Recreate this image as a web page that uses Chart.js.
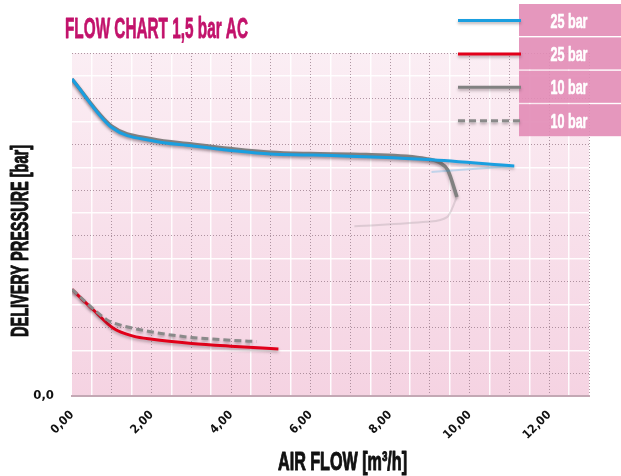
<!DOCTYPE html>
<html>
<head>
<meta charset="utf-8">
<script src="https://cdn.jsdelivr.net/npm/chart.js@4.4.1/dist/chart.umd.min.js"></script>
<style>
  html, body { margin: 0; padding: 0; background: #fff; }
  #wrap { width: 621px; height: 476px; }
</style>
</head>
<body>
<div id="wrap"><canvas id="flowChart"></canvas></div>
<script>
// series values (x = air flow m3/h, y = pressure grid units)
const blue25X = [0, 1.0, 2.02, 3.01, 3.99, 4.98, 5.98, 8.92, 11.12];
const blue25Y = [6.93, 5.87, 5.58, 5.47, 5.37, 5.29, 5.27, 5.17, 5.03];

const gray10X = [0, 1.0, 2.02, 3.01, 3.99, 4.98, 5.98, 7.4, 8.9, 9.25, 9.45, 9.68];
const gray10Y = [6.93, 5.90, 5.62, 5.51, 5.41, 5.33, 5.30, 5.28, 5.19, 5.10, 4.94, 4.35];

const red25X = [0, 0.54, 1.04, 1.54, 2.02, 3.01, 3.99, 5.19];
const red25Y = [2.33, 1.88, 1.48, 1.31, 1.24, 1.15, 1.09, 1.03];

const dash10X = [0, 0.87, 1.04, 2.02, 3.01, 3.99, 4.64];
const dash10Y = [2.33, 1.67, 1.60, 1.40, 1.28, 1.22, 1.19];

// faint reflections visible under the upper curves
const grayReflX = [7.1, 8.93, 9.43, 9.68];
const grayReflY = [3.71, 3.81, 3.91, 4.35];
const blueReflX = [9.04, 11.12];
const blueReflY = [4.90, 5.03];

const legendLabels = ['25 bar', '25 bar', '10 bar', '10 bar'];
const xTickEvery = 2;

const pts = (xs, ys) => xs.map((x, i) => ({ x: x, y: ys[i] }));

const dotColor = 'rgba(150,120,135,0.75)';
const isWhole = v => Math.abs(v - Math.round(v)) < 1e-6;

// bold text squeezed to a given width, with a thin stroke to keep it heavy
function condensedText(c, text, x, y, size, width, color, align, stroke) {
    c.save();
    c.font = 'bold ' + size + 'px "Liberation Sans Narrow", "Liberation Sans", Arial, sans-serif';
    const w = c.measureText(text).width;
    c.translate(x, y);
    c.scale(width / w, 1);
    c.fillStyle = color;
    c.strokeStyle = color;
    c.lineWidth = stroke || 0.9;
    c.lineJoin = 'round';
    c.textAlign = align || 'left';
    c.textBaseline = 'alphabetic';
    c.fillText(text, 0, 0);
    c.strokeText(text, 0, 0);
    c.restore();
}

// plot background gradient
const plotBg = {
    id: 'plotBg',
    beforeDraw(chart) {
        const { ctx: c, chartArea: a } = chart;
        const g = c.createLinearGradient(0, a.top, 0, a.bottom);
        g.addColorStop(0, '#fbeef4');
        g.addColorStop(1, '#f5d3e2');
        c.save();
        c.fillStyle = g;
        c.fillRect(a.left, a.top, a.right - a.left, a.bottom - a.top);
        c.restore();
    }
};

// soft shadow under the curves
const lineShadow = {
    id: 'lineShadow',
    beforeDatasetDraw(chart, args) {
        if (chart.data.datasets[args.index].faint) return;
        const c = chart.ctx;
        c.save();
        c.shadowColor = 'rgba(60,40,50,0.35)';
        c.shadowBlur = 3;
        c.shadowOffsetY = 2;
    },
    afterDatasetDraw(chart, args) {
        if (chart.data.datasets[args.index].faint) return;
        chart.ctx.restore();
    }
};

// titles and the boxed legend
const decorations = {
    id: 'decorations',
    afterDraw(chart) {
        const c = chart.ctx;
        condensedText(c, 'FLOW CHART 1,5 bar AC', 65, 38, 30, 183, '#c2126b', 'left', 0.8);

        c.save();
        c.translate(28, 337);
        c.rotate(-Math.PI / 2);
        condensedText(c, 'DELIVERY PRESSURE [bar]', 0, 0, 23, 192, '#111', 'left', 1);
        c.restore();

        condensedText(c, 'AIR FLOW [m\u00b3/h]', 278, 470, 25, 129, '#111', 'left', 1);

        const lines = chart.data.datasets.filter(d => !d.faint);
        const order = [0, 3, 1, 2]; // blue, red, gray, dashed
        legendLabels.forEach((lab, i) => {
            const top = 4 + i * 33.4;
            c.save();
            c.fillStyle = 'rgba(226,140,182,0.9)';
            c.fillRect(519, top, 102, 32);
            c.restore();

            const ds = lines[order[i]];
            const cy = top + 16.5;
            c.save();
            c.shadowColor = 'rgba(60,40,50,0.35)';
            c.shadowBlur = 3;
            c.shadowOffsetY = 2;
            c.strokeStyle = ds.borderColor;
            c.lineWidth = 3;
            c.setLineDash(ds.borderDash || []);
            c.beginPath();
            c.moveTo(458, cy);
            c.lineTo(521, cy);
            c.stroke();
            c.restore();

            condensedText(c, lab, 569, cy + 7, 20, 37, '#ffffff', 'center', 0.6);
        });
    }
};

const tickFont = { family: '"Liberation Sans Narrow", "DejaVu Sans Condensed", sans-serif', weight: 'bold', size: 12 };

const ctx = document.getElementById('flowChart').getContext('2d');
const chart = new Chart(ctx, {
    type: 'line',
    data: {
        datasets: [
            { data: pts(grayReflX, grayReflY), borderColor: 'rgba(160,150,155,0.3)', borderWidth: 2, faint: true },
            { data: pts(blueReflX, blueReflY), borderColor: 'rgba(27,159,223,0.25)', borderWidth: 2, faint: true },
            { label: '25 bar', data: pts(blue25X, blue25Y), borderColor: '#1a9fe0', borderWidth: 3 },
            { label: '10 bar', data: pts(gray10X, gray10Y), borderColor: '#818181', borderWidth: 3.5 },
            { label: '10 bar', data: pts(dash10X, dash10Y), borderColor: '#8a8a8a', borderWidth: 3, borderDash: [7, 4] },
            { label: '25 bar', data: pts(red25X, red25Y), borderColor: '#e2001a', borderWidth: 3 }
        ]
    },
    options: {
        responsive: true,
        maintainAspectRatio: false,
        animation: false,
        devicePixelRatio: 1,
        layout: { padding: { left: 0, top: 53, right: 32, bottom: 0 } },
        elements: {
            point: { radius: 0 },
            line: { cubicInterpolationMode: 'monotone', fill: false, capBezierPoints: true }
        },
        plugins: { legend: { display: false }, title: { display: false }, tooltip: { enabled: false } },
        scales: {
            x: {
                type: 'linear', min: 0, max: 13,
                afterFit: s => { s.height = 80; },
                ticks: {
                    stepSize: 0.5, autoSkip: false, maxRotation: 45, minRotation: 45, padding: 12,
                    color: '#111', font: tickFont,
                    callback: v => (isWhole(v) && Math.round(v) % xTickEvery === 0) ? v.toFixed(2).replace('.', ',') : ''
                },
                grid: {
                    drawTicks: false,
                    lineWidth: c => (c.tick && isWhole(c.tick.value)) ? 1 : 1.5,
                    color: c => {
                        if (!c.tick || c.tick.value === 0) return 'rgba(0,0,0,0)';
                        return isWhole(c.tick.value) ? dotColor : 'rgba(255,255,255,0.9)';
                    }
                },
                border: {
                    display: true, color: '#c3a8b4', width: 2,
                    dash: c => (c.tick && isWhole(c.tick.value)) ? [1, 2] : []
                }
            },
            y: {
                type: 'linear', min: 0, max: 7.5,
                afterFit: s => { s.width = 72; },
                ticks: {
                    stepSize: 0.5, autoSkip: false, padding: 18,
                    color: '#111', font: { ...tickFont, size: 13 },
                    callback: v => v === 0 ? '0,0' : ''
                },
                grid: {
                    drawTicks: false,
                    lineWidth: c => (c.tick && isWhole(c.tick.value)) ? 1.5 : 1,
                    color: c => {
                        if (!c.tick || c.tick.value === 0) return 'rgba(0,0,0,0)';
                        return isWhole(c.tick.value) ? 'rgba(255,255,255,0.9)' : dotColor;
                    }
                },
                border: {
                    display: false,
                    dash: c => (c.tick && !isWhole(c.tick.value)) ? [1, 2] : []
                }
            }
        }
    },
    plugins: [plotBg, lineShadow, decorations]
});
</script>
</body>
</html>
